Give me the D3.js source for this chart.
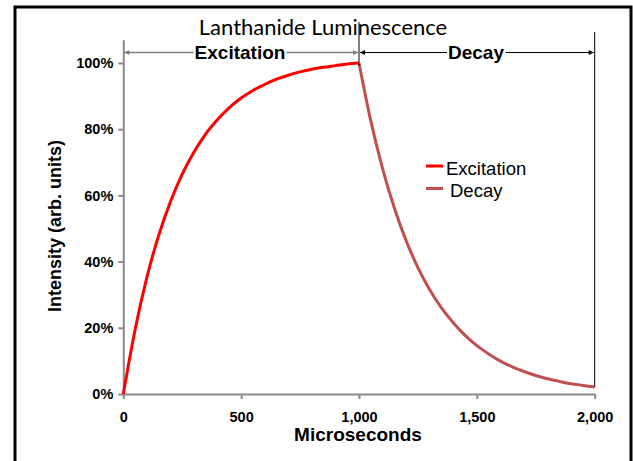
<!DOCTYPE html>
<html>
<head>
<meta charset="utf-8">
<script src="https://cdn.jsdelivr.net/npm/d3@7"></script>
<style>
  body { margin: 0; background: #fff; }
  svg { display: block; }
  .axis text { font-family: "Liberation Sans", Arial, sans-serif; font-weight: bold; font-size: 14.5px; fill: #000; }
  .axis path, .axis line { stroke: #898989; stroke-width: 2; }
</style>
</head>
<body>
<div id="box"></div>
<script>
// time in microseconds, intensity as fraction of max
var excTime = [0,50,100,150,200,250,300,350,400,450,500,550,600,650,700,750,800,850,900,950,1000];
var excitation = [0,0.194,0.352,0.479,0.581,0.664,0.731,0.786,0.829,0.865,0.894,0.917,0.935,0.951,0.963,0.973,0.981,0.987,0.992,0.997,1.0];
var decTime = [1000,1050,1100,1150,1200,1250,1300,1350,1400,1450,1500,1550,1600,1650,1700,1750,1800,1850,1900,1950,2000];
var decay = [1.0,0.825,0.681,0.562,0.463,0.382,0.315,0.260,0.215,0.177,0.146,0.121,0.0995,0.082,0.068,0.056,0.046,0.038,0.031,0.026,0.021];
var xTicks = [0,500,1000,1500,2000];
var yTicks = [0,0.2,0.4,0.6,0.8,1.0];
var seriesNames = ["Excitation","Decay"];
var seriesColors = ["#ff0000","#c0504d"];

var W = 633, H = 461;
var svg = d3.select("#box").append("svg").attr("width", W).attr("height", H);

// outer frame
svg.append("rect").attr("x",15).attr("y",7).attr("width",616).attr("height",480)
   .attr("fill","none").attr("stroke","#000").attr("stroke-width",3);

var x = d3.scaleLinear().domain([0,2000]).range([123.3,594.7]);
var y = d3.scaleLinear().domain([0,1.07]).range([394,39.8]);

svg.append("g").attr("class","axis")
   .attr("transform","translate(0,394)")
   .call(d3.axisBottom(x).tickValues(xTicks).tickFormat(d3.format(",")).tickSize(5).tickSizeOuter(0).tickPadding(13));

svg.append("g").attr("class","axis")
   .attr("transform","translate(123.3,0)")
   .call(d3.axisLeft(y).tickValues(yTicks).tickFormat(d3.format(".0%")).tickSize(5).tickSizeOuter(0).tickPadding(5));

// series lines
var line = d3.line().x(function(d){ return x(d[0]); }).y(function(d){ return y(d[1]); }).curve(d3.curveMonotoneX);
var excPts = excTime.map(function(t,i){ return [t, excitation[i]]; });
var decPts = decTime.map(function(t,i){ return [t, decay[i]]; });
svg.append("path").datum(decPts).attr("d",line).attr("fill","none")
   .attr("stroke",seriesColors[1]).attr("stroke-width",3);
svg.append("path").datum(excPts).attr("d",line).attr("fill","none")
   .attr("stroke",seriesColors[0]).attr("stroke-width",3);

// markers for the phases
var defs = svg.append("defs");
function marker(id, color, orient){
  defs.append("marker").attr("id",id).attr("viewBox","0 0 10 10").attr("refX",10).attr("refY",5)
     .attr("markerWidth",7).attr("markerHeight",5).attr("markerUnits","userSpaceOnUse").attr("orient",orient)
     .append("path").attr("d","M0,0L10,5L0,10Z").attr("fill",color);
}
marker("ag","#7f7f7f","auto-start-reverse");
marker("ab","#000","auto-start-reverse");

svg.append("line").attr("x1",x(1000)).attr("x2",x(1000)).attr("y1",22).attr("y2",y(1.0)+3)
   .attr("stroke","#000").attr("stroke-width",1);
svg.append("line").attr("x1",x(2000)).attr("x2",x(2000)).attr("y1",32).attr("y2",y(decay[decay.length-1]))
   .attr("stroke","#000").attr("stroke-width",1);

var arrowY = 52.5;
svg.append("line").attr("x1",x(0)+1).attr("x2",x(1000)-1).attr("y1",arrowY).attr("y2",arrowY)
   .attr("stroke","#7f7f7f").attr("stroke-width",1.5)
   .attr("marker-start","url(#ag)").attr("marker-end","url(#ag)");
svg.append("line").attr("x1",x(1000)+1).attr("x2",x(2000)-1).attr("y1",arrowY).attr("y2",arrowY)
   .attr("stroke","#000").attr("stroke-width",1.2)
   .attr("marker-start","url(#ab)").attr("marker-end","url(#ab)");

function phaseLabel(txt, cx){
  var t = svg.append("text").attr("x",cx).attr("y",59).attr("text-anchor","middle")
     .style("font-family","'Liberation Sans', Arial, sans-serif").style("font-weight","bold").style("font-size","19px")
     .text(txt);
  var bb = t.node().getBBox();
  svg.insert("rect", function(){ return t.node(); })
     .attr("x",bb.x-1).attr("y",arrowY-3).attr("width",bb.width+2).attr("height",6).attr("fill","#fff");
}
phaseLabel(seriesNames[0], 240);
phaseLabel(seriesNames[1], 476);

// title
svg.append("text").attr("x",323).attr("y",35).attr("text-anchor","middle")
   .style("font-family","Lato, 'Open Sans', sans-serif").style("font-size","22px")
   .text("Lanthanide Luminescence");

// axis titles
svg.append("text").attr("x",358).attr("y",441).attr("text-anchor","middle")
   .style("font-family","'Liberation Sans', Arial, sans-serif").style("font-weight","bold").style("font-size","19px")
   .text("Microseconds");
svg.append("text").attr("transform","translate(61,226) rotate(-90)").attr("text-anchor","middle")
   .style("font-family","'Liberation Sans', Arial, sans-serif").style("font-weight","bold").style("font-size","18px")
   .text("Intensity (arb. units)");

// legend
var legend = svg.append("g");
var legendY = [166, 188.5];
var legendTx = [446, 450];
seriesNames.forEach(function(n,i){
  legend.append("line").attr("x1",426).attr("x2",443).attr("y1",legendY[i]).attr("y2",legendY[i])
     .attr("stroke",seriesColors[i]).attr("stroke-width",3);
  legend.append("text").attr("x",legendTx[i]).attr("y",legendY[i]+8.5)
     .style("font-family","'Liberation Sans', Arial, sans-serif").style("font-size","18.5px")
     .text(n);
});
</script>
</body>
</html>
